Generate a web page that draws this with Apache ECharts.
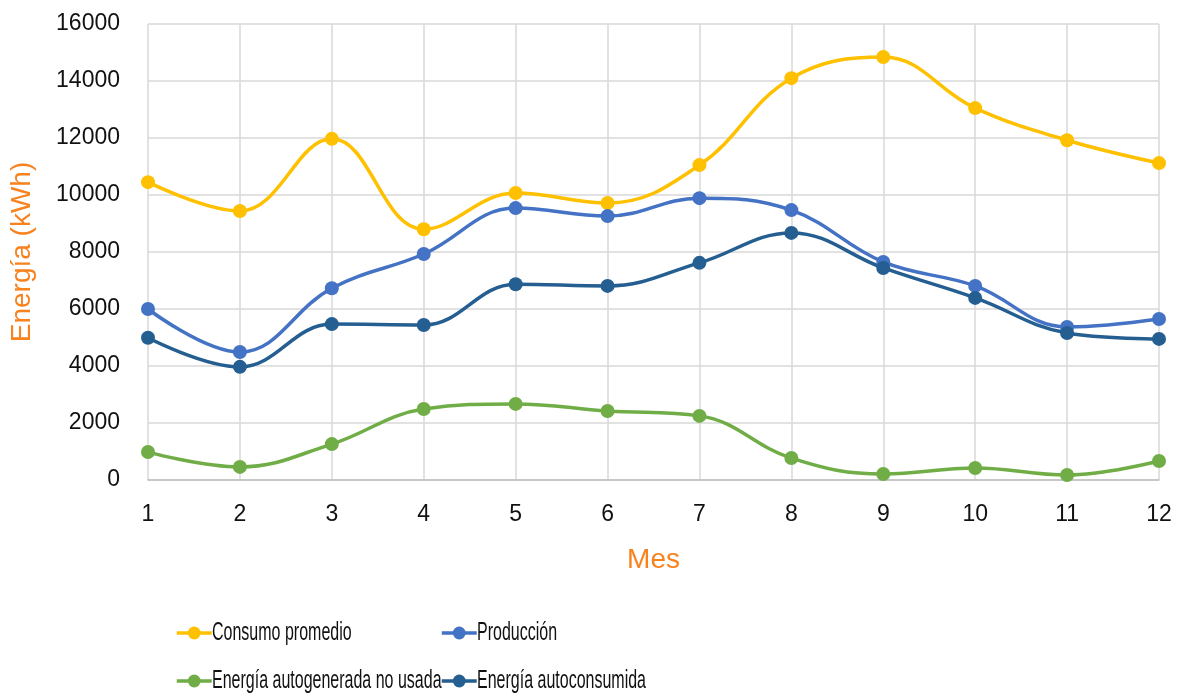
<!DOCTYPE html>
<html>
<head>
<meta charset="utf-8">
<script src="https://cdn.jsdelivr.net/npm/echarts@6/dist/echarts.min.js"></script>
<style>
  html, body { margin: 0; padding: 0; background: #fff; }
  #chart { width: 1183px; height: 695px; }
</style>
</head>
<body>
<div id="chart"></div>
<script>
// Monthly energy balance (kWh)
const months = ['1', '2', '3', '4', '5', '6', '7', '8', '9', '10', '11', '12'];
const consumoPromedio = [10450, 9440, 11970, 8800, 10070, 9720, 11050, 14100, 14840, 13050, 11920, 11120];
const produccion = [6000, 4490, 6730, 7930, 9540, 9260, 9890, 9470, 7650, 6810, 5370, 5650];
const noUsada = [980, 460, 1260, 2490, 2670, 2420, 2250, 770, 210, 420, 175, 665];
const autoconsumida = [4990, 3970, 5470, 5440, 6870, 6810, 7620, 8670, 7440, 6390, 5160, 4950];
const yTicks = { min: 0, max: 16000, interval: 2000 };

const seriesDefs = [
  { name: 'Consumo promedio', data: consumoPromedio, color: '#FFC000' },
  { name: 'Producción', data: produccion, color: '#4472C4' },
  { name: 'Energía autogenerada no usada', data: noUsada, color: '#70AD47' },
  { name: 'Energía autoconsumida', data: autoconsumida, color: '#255E91' }
];

// legend grid: two columns, two rows
const legendPos = [
  { x: 175, y: 633 },
  { x: 440, y: 633 },
  { x: 175, y: 681 },
  { x: 440, y: 681 }
];
const iconW = 35, iconH = 16;

const baseFont = 'Liberation Sans, Arial, sans-serif';
const orange = '#F7821E';

const chart = echarts.init(document.getElementById('chart'), null, { renderer: 'canvas' });

chart.setOption({
  animation: false,
  backgroundColor: '#ffffff',
  grid: { left: 146, right: 24, top: 24, bottom: 215, containLabel: false },
  xAxis: {
    type: 'category',
    data: months,
    boundaryGap: false,
    name: 'Mes',
    nameLocation: 'middle',
    nameGap: 66,
    nameTextStyle: { color: orange, fontSize: 28, fontFamily: baseFont },
    axisLine: { show: true, lineStyle: { color: '#BFBFBF', width: 1.5 } },
    axisTick: { show: false },
    axisLabel: { color: '#111', fontSize: 23, margin: 23, fontFamily: baseFont },
    splitLine: { show: true, lineStyle: { color: '#D9D9D9', width: 1.5 } }
  },
  yAxis: {
    type: 'value',
    min: yTicks.min,
    max: yTicks.max,
    interval: yTicks.interval,
    name: 'Energía (kWh)',
    nameLocation: 'middle',
    nameRotate: 90,
    nameGap: 112,
    nameTextStyle: { color: orange, fontSize: 28, fontFamily: baseFont },
    axisLine: { show: false },
    axisTick: { show: false },
    axisLabel: {
      color: '#111', fontSize: 23, margin: 28, fontFamily: baseFont,
      formatter: v => String(v)
    },
    splitLine: { show: true, lineStyle: { color: '#D9D9D9', width: 1.5 } }
  },
  // legend symbols (line + dot); the labels are set in a condensed face below
  legend: seriesDefs.map((s, i) => ({
    data: [s.name],
    left: legendPos[i].x,
    top: legendPos[i].y - iconH / 2,
    itemWidth: iconW,
    itemHeight: iconH,
    itemGap: 0,
    padding: 0,
    formatter: () => '',
    lineStyle: { width: 3.5 },
    textStyle: { fontSize: 1 }
  })),
  graphic: seriesDefs.map((s, i) => ({
    type: 'text',
    x: legendPos[i].x + iconW + 2,
    y: legendPos[i].y,
    scaleX: 0.64,
    silent: true,
    style: {
      text: s.name,
      fill: '#111',
      font: '25px ' + baseFont,
      textAlign: 'left',
      textVerticalAlign: 'middle'
    }
  })),
  series: seriesDefs.map(s => ({
    name: s.name,
    type: 'line',
    data: s.data,
    smooth: 0.4,
    symbol: 'circle',
    symbolSize: 14,
    itemStyle: { color: s.color },
    lineStyle: { color: s.color, width: 3.5 }
  }))
});
</script>
</body>
</html>
